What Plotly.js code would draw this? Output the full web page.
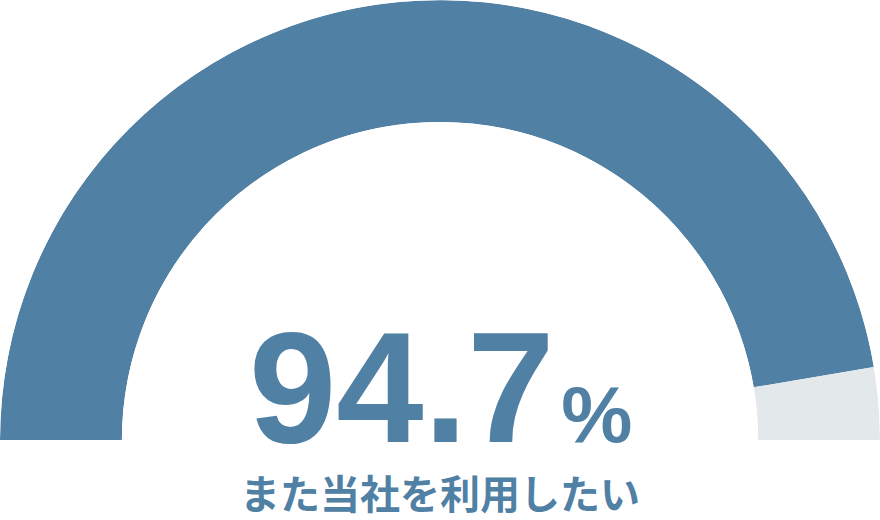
<!DOCTYPE html>
<html>
<head>
<meta charset="utf-8">
<script src="https://cdn.plot.ly/plotly-3.0.1.min.js"></script>
<style>html,body{margin:0;padding:0;background:#fff;}#chart{width:880px;height:520px;}</style>
</head>
<body>
<div id="chart"></div>
<script>
const categories = ["また当社を利用したい", "その他"];
const values = [94.7, 5.3];
const valueLabel = "94.7";
const unitLabel = "%";
const caption = "また当社を利用したい";
const colors = ["#5180a5", "#e3e8eb"];

// convert percentages to angular wedges on a half circle (180° -> 0°)
const widths = values.map(v => v / 100 * 180);
let start = 180;
const thetas = widths.map(w => { const c = start - w / 2; start -= w; return c; });

const trace = {
  type: "barpolar",
  r: values.map(() => 1),
  theta: thetas,
  width: widths,
  text: categories,
  marker: { color: colors, line: { width: 0 } },
  hoverinfo: "text"
};

const layout = {
  width: 880, height: 520,
  margin: { l: 0, r: 0, t: 0, b: 0 },
  paper_bgcolor: "#ffffff",
  showlegend: false,
  polar: {
    domain: { x: [0, 1], y: [1 - 440 / 520, 1] },
    sector: [0, 180],
    hole: 0.723,
    bgcolor: "rgba(0,0,0,0)",
    bargap: 0,
    radialaxis: { visible: false, range: [0, 1] },
    angularaxis: { visible: false, rotation: 0, direction: "counterclockwise" }
  },
  annotations: [
    {
      xref: "paper", yref: "paper", x: 0.5, y: 1 - 387 / 520,
      xanchor: "center", yanchor: "middle", showarrow: false,
      text: valueLabel + "<span style='font-size:24px'> </span><span style='font-size:80px'>" + unitLabel + "</span>",
      font: { family: "Liberation Sans, Arial, sans-serif", size: 157, color: colors[0], weight: 700 }
    },
    {
      xref: "paper", yref: "paper", x: 0.5, y: 1 - 492 / 520,
      xanchor: "center", yanchor: "middle", showarrow: false,
      text: caption,
      font: { family: "Noto Sans CJK JP, sans-serif", size: 40, color: colors[0], weight: 700 }
    }
  ]
};

Plotly.newPlot("chart", [trace], layout, { displayModeBar: false, staticPlot: true });
</script>
</body>
</html>
